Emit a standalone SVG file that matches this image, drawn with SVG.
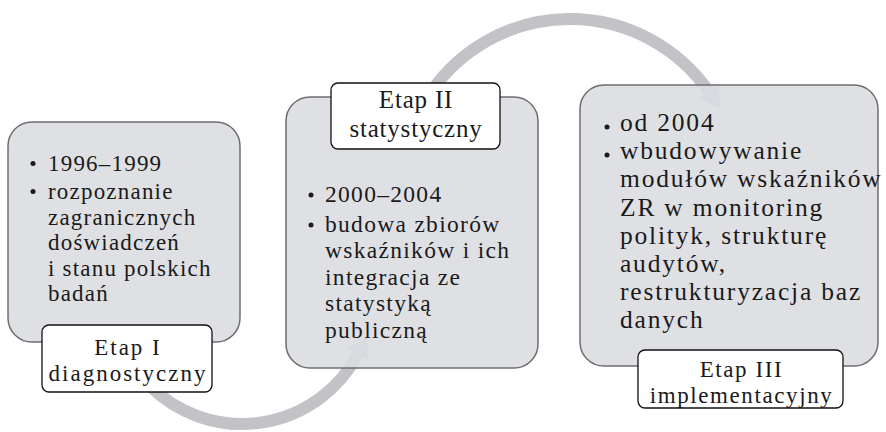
<svg xmlns="http://www.w3.org/2000/svg" width="886" height="432" viewBox="0 0 886 432">
<defs>
<style>
.box{fill:#dcdde1;stroke:#6e6e70;stroke-width:1.5}
.lbl{fill:#ffffff;stroke:#111;stroke-width:1.3}
.arc{fill:none;stroke:#c3c3c7;stroke-width:12}
.head{fill:#c3c3c7}
text{font-family:"Liberation Serif","Times New Roman",serif;fill:#1a1a1a}
.b1{font-size:23px;letter-spacing:1.2px}
.b2{font-size:23.5px;letter-spacing:1.3px}
.b3{font-size:25.5px;letter-spacing:1.8px}
.l{text-anchor:middle}
.dot{fill:#1a1a1a}
</style>
</defs>
<rect width="886" height="432" fill="#ffffff"/>
<g id="connectors">
<path class="arc" d="M149.4,385.6 A131,131 0 0 0 357.7,354.5"/>
<polygon class="head" points="367,337 368.3,360.1 347.1,348.9"/>
<path class="arc" d="M431.6,91.1 A169,169 0 0 1 708.4,91"/>
<polygon class="head" points="721,109 718.2,84.1 698.6,97.9"/>
</g>
<g id="stage1">
<rect class="box" x="8" y="122" width="232" height="220" rx="24" fill-opacity="0.9"/>
<circle class="dot" cx="33" cy="163.5" r="2.5"/>
<circle class="dot" cx="33" cy="191.5" r="2.5"/>
<text class="b1" font-family="Liberation Serif, serif"><tspan x="48" y="171">1996–1999</tspan><tspan x="48" y="199">rozpoznanie</tspan><tspan x="48" y="224.5">zagranicznych</tspan><tspan x="48" y="250">doświadczeń</tspan><tspan x="48" y="275.5">i stanu polskich</tspan><tspan x="48" y="301">badań</tspan></text>
</g>
<g id="label1">
<rect class="lbl" x="42" y="325" width="170" height="67" rx="7"/>
<text class="l" font-family="Liberation Serif, serif" font-size="23" letter-spacing="2"><tspan x="128" y="355">Etap I</tspan><tspan x="128" y="381">diagnostyczny</tspan></text>
</g>
<g id="stage2">
<rect class="box" x="286" y="97" width="252" height="271" rx="24" fill-opacity="0.9"/>
<circle class="dot" cx="311" cy="195" r="2.5"/>
<circle class="dot" cx="311" cy="225" r="2.5"/>
<text class="b2" font-family="Liberation Serif, serif"><tspan x="325" y="201.5">2000–2004</tspan><tspan x="325" y="231.5">budowa zbiorów</tspan><tspan x="325" y="258">wskaźników i ich</tspan><tspan x="325" y="284.5">integracja ze</tspan><tspan x="325" y="311">statystyką</tspan><tspan x="325" y="337.5">publiczną</tspan></text>
</g>
<g id="label2">
<rect class="lbl" x="331" y="83" width="169" height="66" rx="7"/>
<text class="l" font-family="Liberation Serif, serif" font-size="25" letter-spacing="0.8"><tspan x="416" y="108">Etap II</tspan><tspan x="416" y="136.5">statystyczny</tspan></text>
</g>
<g id="stage3">
<rect class="box" x="580" y="85" width="298" height="281" rx="24" fill-opacity="0.9"/>
<circle class="dot" cx="607" cy="127" r="2.5"/>
<circle class="dot" cx="607" cy="155" r="2.5"/>
<text class="b3" font-family="Liberation Serif, serif"><tspan x="620" y="131">od 2004</tspan><tspan x="620" y="159">wbudowywanie</tspan><tspan x="620" y="187">modułów wskaźników</tspan><tspan x="620" y="215.5">ZR w monitoring</tspan><tspan x="620" y="243.5">polityk, strukturę</tspan><tspan x="620" y="271.5">audytów,</tspan><tspan x="620" y="300">restrukturyzacja baz</tspan><tspan x="620" y="328">danych</tspan></text>
</g>
<g id="label3">
<rect class="lbl" x="638" y="350" width="205" height="58" rx="7"/>
<text class="l" font-family="Liberation Serif, serif" font-size="23" letter-spacing="1.6"><tspan x="741.5" y="377">Etap III</tspan><tspan x="741.5" y="402.5">implementacyjny</tspan></text>
</g>
</svg>
